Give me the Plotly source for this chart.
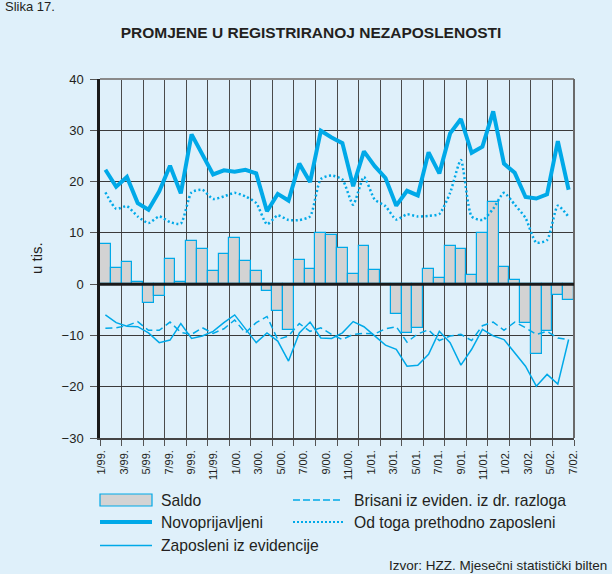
import numpy as np
import plotly.graph_objects as go

# ---------------- data ----------------
months = ["1/99", "2/99", "3/99", "4/99", "5/99", "6/99", "7/99", "8/99", "9/99", "10/99", "11/99", "12/99",
          "1/00", "2/00", "3/00", "4/00", "5/00", "6/00", "7/00", "8/00", "9/00", "10/00", "11/00", "12/00",
          "1/01", "2/01", "3/01", "4/01", "5/01", "6/01", "7/01", "8/01", "9/01", "10/01", "11/01", "12/01",
          "1/02", "2/02", "3/02", "4/02", "5/02", "6/02", "7/02", "8/02"]

tick_labels = ["1/99.", "3/99.", "5/99.", "7/99.", "9/99.", "11/99.", "1/00.", "3/00.", "5/00.", "7/00.", "9/00.",
               "11/00.", "1/01.", "3/01.", "5/01.", "7/01.", "9/01.", "11/01.", "1/02.", "3/02.", "5/02.", "7/02."]

saldo = [7.9, 3.1, 4.4, 0.5, -3.6, -2.3, 4.9, 0.5, 8.4, 6.9, 2.5, 5.9, 9.0, 4.6, 2.5, -1.4,
         -5.3, -9.0, 4.8, 2.9, 10.0, 9.6, 7.0, 1.9, 7.5, 2.7, 0.0, -5.9, -9.5, -8.5, 3.0, 1.2,
         7.4, 6.9, 1.8, 9.9, 16.0, 3.3, 0.9, -7.5, -13.7, -9.2, -2.2, -3.0]

novoprijavljeni = [22.3, 19.0, 20.9, 15.8, 14.5, 18.1, 23.1, 17.7, 29.2, 25.3, 21.4, 22.2, 21.9, 22.3, 21.6, 14.2,
                   17.6, 16.3, 23.5, 19.9, 29.9, 28.6, 27.5, 19.1, 25.9, 23.0, 20.7, 15.3, 18.2, 17.3, 25.7, 21.6,
                   29.4, 32.2, 25.6, 26.8, 33.7, 23.5, 21.7, 17.0, 16.7, 17.5, 27.9, 18.4]

zaposleni = [-6.0, -7.5, -8.2, -8.3, -9.5, -11.4, -10.9, -7.7, -10.6, -10.1, -9.2, -7.5, -6.0, -8.8, -11.4, -9.5,
             -11.1, -15.0, -9.5, -7.4, -10.5, -10.6, -9.5, -7.3, -8.3, -10.1, -11.9, -12.7, -16.0, -15.8, -13.7, -9.2,
             -11.4, -15.8, -12.7, -8.8, -10.1, -10.8, -13.4, -16.0, -19.9, -17.6, -19.5, -10.8]

brisani = [-8.6, -8.5, -8.1, -7.3, -9.0, -9.0, -7.4, -9.4, -9.8, -8.5, -9.6, -8.7, -7.0, -9.5, -7.5, -6.3,
           -10.8, -10.1, -7.7, -9.2, -8.5, -9.8, -10.8, -9.8, -9.6, -9.7, -8.7, -8.3, -11.3, -9.7, -8.9, -11.0,
           -10.1, -9.8, -11.0, -8.1, -7.4, -9.0, -7.4, -8.5, -9.8, -9.2, -10.5, -10.8]

prethodno = [17.9, 14.7, 15.2, 13.2, 11.9, 13.2, 12.1, 11.8, 17.9, 18.4, 16.6, 17.1, 17.8, 17.1, 15.8, 11.7,
             13.4, 12.5, 12.5, 13.2, 20.5, 21.2, 20.4, 15.5, 20.9, 16.5, 15.2, 12.6, 13.6, 13.2, 13.3, 13.7,
             17.8, 24.2, 13.2, 12.5, 14.7, 17.8, 15.5, 12.9, 8.1, 8.6, 15.3, 13.1]

# ---------------- styling ----------------
BLUE = "#00a9e8"
BAR_FILL = "#d3d3d3"
BG = "#dff0fa"
TXT = "#231f20"
FONT = "Liberation Sans, Arial, sans-serif"

W, H = 612, 574
ML, MR, MT, MB = 100, 38, 79, 136
PW, PH = W - ML - MR, H - MT - MB


def px(x):
    return (x - ML) / PW


def py(y):
    return (H - MB - y) / PH


n = len(months)
xpos = np.arange(n) + 0.5
label_pos = 0.15 + np.arange(len(tick_labels)) * 2.085

fig = go.Figure()
fig.add_trace(go.Bar(x=xpos, y=saldo, width=1, name="Saldo", customdata=months,
                     marker=dict(color=BAR_FILL, line=dict(color=BLUE, width=1.2))))
fig.add_trace(go.Scatter(x=xpos, y=brisani, mode="lines", name="Brisani iz eviden. iz dr. razloga",
                         line=dict(color=BLUE, width=1.5, dash="7px,4px")))
fig.add_trace(go.Scatter(x=xpos, y=zaposleni, mode="lines", name="Zaposleni iz evidencije",
                         line=dict(color=BLUE, width=1.5)))
fig.add_trace(go.Scatter(x=xpos, y=prethodno, mode="lines", name="Od toga prethodno zaposleni",
                         line=dict(color=BLUE, width=2.5, dash="2px,2.5px", shape="spline", smoothing=0.6)))
fig.add_trace(go.Scatter(x=xpos, y=novoprijavljeni, mode="lines", name="Novoprijavljeni",
                         line=dict(color=BLUE, width=4)))

shapes = [
    dict(type="line", xref="paper", yref="paper", x0=0, x1=1, y0=1, y1=1, line=dict(color="#8a8a8a", width=2)),
    dict(type="line", xref="paper", yref="paper", x0=1, x1=1, y0=0, y1=1, line=dict(color="#6a6a6a", width=2)),
    dict(type="line", xref="paper", yref="y", x0=0, x1=1, y0=0, y1=0, layer="above",
         line=dict(color="#1a1a1a", width=3)),
    # manual legend symbols
    dict(type="rect", xref="paper", yref="paper", x0=px(100), x1=px(152), y0=py(494), y1=py(506),
         fillcolor=BAR_FILL, line=dict(color=BLUE, width=1.2)),
    dict(type="line", xref="paper", yref="paper", x0=px(100), x1=px(152), y0=py(522), y1=py(522),
         line=dict(color=BLUE, width=4)),
    dict(type="line", xref="paper", yref="paper", x0=px(100), x1=px(152), y0=py(545.5), y1=py(545.5),
         line=dict(color=BLUE, width=1.5)),
    dict(type="line", xref="paper", yref="paper", x0=px(293), x1=px(343), y0=py(500), y1=py(500),
         line=dict(color=BLUE, width=1.5, dash="7px,3px")),
    dict(type="line", xref="paper", yref="paper", x0=px(293), x1=px(343), y0=py(522), y1=py(522),
         line=dict(color=BLUE, width=2, dash="2px,2px")),
]

leg_font = dict(family=FONT, size=15.7, color=TXT)
annotations = [
    dict(text="Saldo", x=px(159), y=py(500.5)),
    dict(text="Novoprijavljeni", x=px(159), y=py(522)),
    dict(text="Zaposleni iz evidencije", x=px(159), y=py(545.5)),
    dict(text="Brisani iz eviden. iz dr. razloga", x=px(352), y=py(500.5)),
    dict(text="Od toga prethodno zaposleni", x=px(352), y=py(522)),
]
for a in annotations:
    a.update(xref="paper", yref="paper", xanchor="left", yanchor="middle", showarrow=False, font=leg_font)

annotations += [
    dict(text="Slika 17.", x=px(3), y=py(7), xref="paper", yref="paper", xanchor="left", yanchor="middle",
         showarrow=False, font=dict(family=FONT, size=13, color=TXT)),
    dict(text="u tis.", x=px(36), y=py(258), xref="paper", yref="paper", xanchor="center", yanchor="middle",
         textangle=-90, showarrow=False, font=dict(family=FONT, size=15, color=TXT)),
    dict(text="Izvor: HZZ. Mjesečni statistički bilten", x=px(609), y=py(565), xref="paper", yref="paper",
         xanchor="right", yanchor="middle", showarrow=False, font=dict(family=FONT, size=13.5, color=TXT)),
]

fig.update_layout(
    width=W, height=H,
    margin=dict(l=ML, r=MR, t=MT, b=MB),
    paper_bgcolor=BG, plot_bgcolor=BG,
    showlegend=False,
    bargap=0,
    font=dict(family=FONT, color=TXT),
    title=dict(text="<b>PROMJENE U REGISTRIRANOJ NEZAPOSLENOSTI</b>", x=311 / W, xanchor="center",
               xref="container", y=1 - 33 / H, yanchor="middle", yref="container",
               font=dict(family=FONT, size=15.5, color=TXT)),
    shapes=shapes,
    annotations=annotations,
    xaxis=dict(range=[0, n], tickmode="array", tickvals=label_pos, ticktext=tick_labels, ticks="",
               showgrid=False, zeroline=False, tickangle=-90, tickfont=dict(size=11, color=TXT),
               ticklabelstandoff=6,
               showline=True, linecolor="#444", linewidth=1.5,
               minor=dict(tickmode="array", tickvals=list(range(0, n + 1, 2)), ticks="outside", ticklen=6,
                          tickcolor="#555", tickwidth=1, showgrid=True, gridcolor="#4a4a4a", gridwidth=1)),
    yaxis=dict(range=[-30, 40], tickmode="linear", tick0=-30, dtick=10, ticks="outside", ticklen=7,
               tickcolor="#555", showgrid=True, gridcolor="#3a3a3a", gridwidth=1, zeroline=False,
               showline=True, linecolor="#1a1a1a", linewidth=2.5, tickfont=dict(size=13, color=TXT),
               ticklabelstandoff=4),
)

fig.write_html("out.html", config={"displayModeBar": False},
               post_script="document.body.style.margin='0';document.body.style.background='%s';" % BG)
